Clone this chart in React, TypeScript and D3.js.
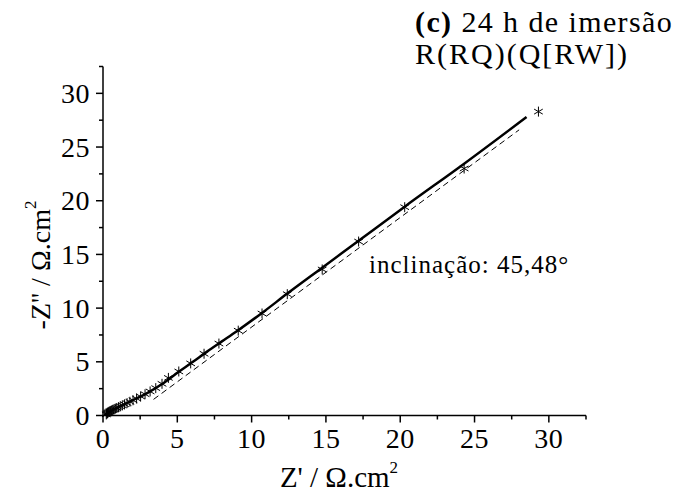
import React from "react";
import * as d3 from "d3";

const W = 679;
const H = 494;

// experimental points (Z', -Z'')
const expX = [0.22, 0.26, 0.30, 0.35, 0.40, 0.46, 0.52, 0.59, 0.66, 0.74, 0.83, 0.93, 1.04, 1.16, 1.30, 1.45, 1.62, 1.81, 2.02, 2.26, 2.53, 2.83, 3.17, 3.55, 3.97, 4.4, 5.1, 5.9, 6.8, 7.8, 9.1, 10.7, 12.4, 14.75, 17.2, 20.3, 24.3, 29.3];
const expY = [0.10, 0.16, 0.22, 0.28, 0.33, 0.38, 0.43, 0.48, 0.53, 0.58, 0.64, 0.70, 0.77, 0.85, 0.94, 1.04, 1.15, 1.28, 1.42, 1.58, 1.77, 1.98, 2.24, 2.55, 2.95, 3.5, 4.1, 4.85, 5.75, 6.7, 7.9, 9.5, 11.3, 13.6, 16.2, 19.4, 23.0, 28.3];

// fitted curve R(RQ)(Q[RW])
const fitX = [0.15, 0.3, 0.6, 1.0, 1.5, 2.0, 3.0, 4.0, 5.0, 6.0, 7.0, 8.0, 9.0, 10.7, 12.4, 14.75, 17.2, 20.3, 24.3, 28.5];
const fitY = [0.05, 0.2, 0.47, 0.75, 1.08, 1.42, 2.1, 2.95, 3.98, 4.95, 5.95, 6.9, 7.85, 9.55, 11.35, 13.76, 16.27, 19.45, 23.45, 27.8];

// slope line (45,48°)
const slopeX = [3.4, 28.0];
const slopeY = [1.5, 26.6];

const majorTicks = [0, 5, 10, 15, 20, 25, 30];
const minorTicks = [2.5, 7.5, 12.5, 17.5, 22.5, 27.5, 32.5];

const FONT = '"Liberation Serif", "Times New Roman", Times, serif';

export default function App() {
  const x = d3.scaleLinear().domain([0, 32.5]).range([103, 586]);
  const y = d3.scaleLinear().domain([0, 32.5]).range([415.5, 66.5]);

  const fitPts: [number, number][] = fitX.map((v, i) => [v, fitY[i]]);
  const fitLine = d3
    .line<[number, number]>()
    .x((d) => x(d[0]))
    .y((d) => y(d[1]))
    .curve(d3.curveMonotoneX)(fitPts);

  const slopePts: [number, number][] = slopeX.map((v, i) => [v, slopeY[i]]);
  const slopeLine = d3
    .line<[number, number]>()
    .x((d) => x(d[0]))
    .y((d) => y(d[1]))(slopePts);

  const star = d3.symbol().type(d3.symbolAsterisk).size(70)();

  const x0 = x(0);
  const y0 = y(0);

  return (
    <svg width={W} height={H} style={{ display: "block", position: "absolute", left: 0, top: 0, background: "#fff" }}>
      <rect x={0} y={0} width={W} height={H} fill="#fff" />
      <g style={{ fontFamily: FONT }} fill="#000">
        {/* axes */}
        <line x1={x0} x2={x(32.5)} y1={y0} y2={y0} stroke="#000" strokeWidth={1.5} />
        <line x1={x0} x2={x0} y1={y0} y2={y(32.5)} stroke="#000" strokeWidth={1.5} />
        {majorTicks.map((t) => (
          <g key={"mx" + t}>
            <line x1={x(t)} x2={x(t)} y1={y0} y2={y0 + 7} stroke="#000" strokeWidth={1.5} />
            <text x={x(t)} y={448} textAnchor="middle" fontSize={28} letterSpacing={0.5}>
              {t}
            </text>
          </g>
        ))}
        {minorTicks.map((t) => (
          <line key={"nx" + t} x1={x(t)} x2={x(t)} y1={y0} y2={y0 + 4} stroke="#000" strokeWidth={1.5} />
        ))}
        {majorTicks.map((t) => (
          <g key={"my" + t}>
            <line x1={x0 - 7} x2={x0} y1={y(t)} y2={y(t)} stroke="#000" strokeWidth={1.5} />
            <text x={90} y={y(t)} dy="0.34em" textAnchor="end" fontSize={28} letterSpacing={0.5}>
              {t}
            </text>
          </g>
        ))}
        {minorTicks.map((t) => (
          <line key={"ny" + t} x1={x0 - 4} x2={x0} y1={y(t)} y2={y(t)} stroke="#000" strokeWidth={1.5} />
        ))}

        {/* slope dashed line */}
        <path d={slopeLine || ""} fill="none" stroke="#000" strokeWidth={1} strokeDasharray="6,4" />
        {/* fit */}
        <path d={fitLine || ""} fill="none" stroke="#000" strokeWidth={2.5} />
        {/* experimental points */}
        {expX.map((v, i) => (
          <path key={"p" + i} d={star || ""} transform={`translate(${x(v)},${y(expY[i])})`} fill="none" stroke="#000" strokeWidth={1} />
        ))}

        {/* labels */}
        <text x={369} y={273} fontSize={25} letterSpacing={1}>
          inclinação: 45,48°
        </text>
        <text x={415} y={32} fontSize={30} letterSpacing={1.4}>
          <tspan fontWeight="bold">(c)</tspan> 24 h de imersão
        </text>
        <text x={415} y={64} fontSize={30} letterSpacing={2}>
          R(RQ)(Q[RW])
        </text>
        <text x={339} y={487} textAnchor="middle" fontSize={29}>
          Z' / Ω.cm<tspan fontSize={17} dy={-14}>2</tspan>
        </text>
        <text transform="translate(50,265) rotate(-90)" textAnchor="middle" fontSize={28}>
          -Z'' / Ω.cm<tspan fontSize={17} dy={-14}>2</tspan>
        </text>
      </g>
    </svg>
  );
}
